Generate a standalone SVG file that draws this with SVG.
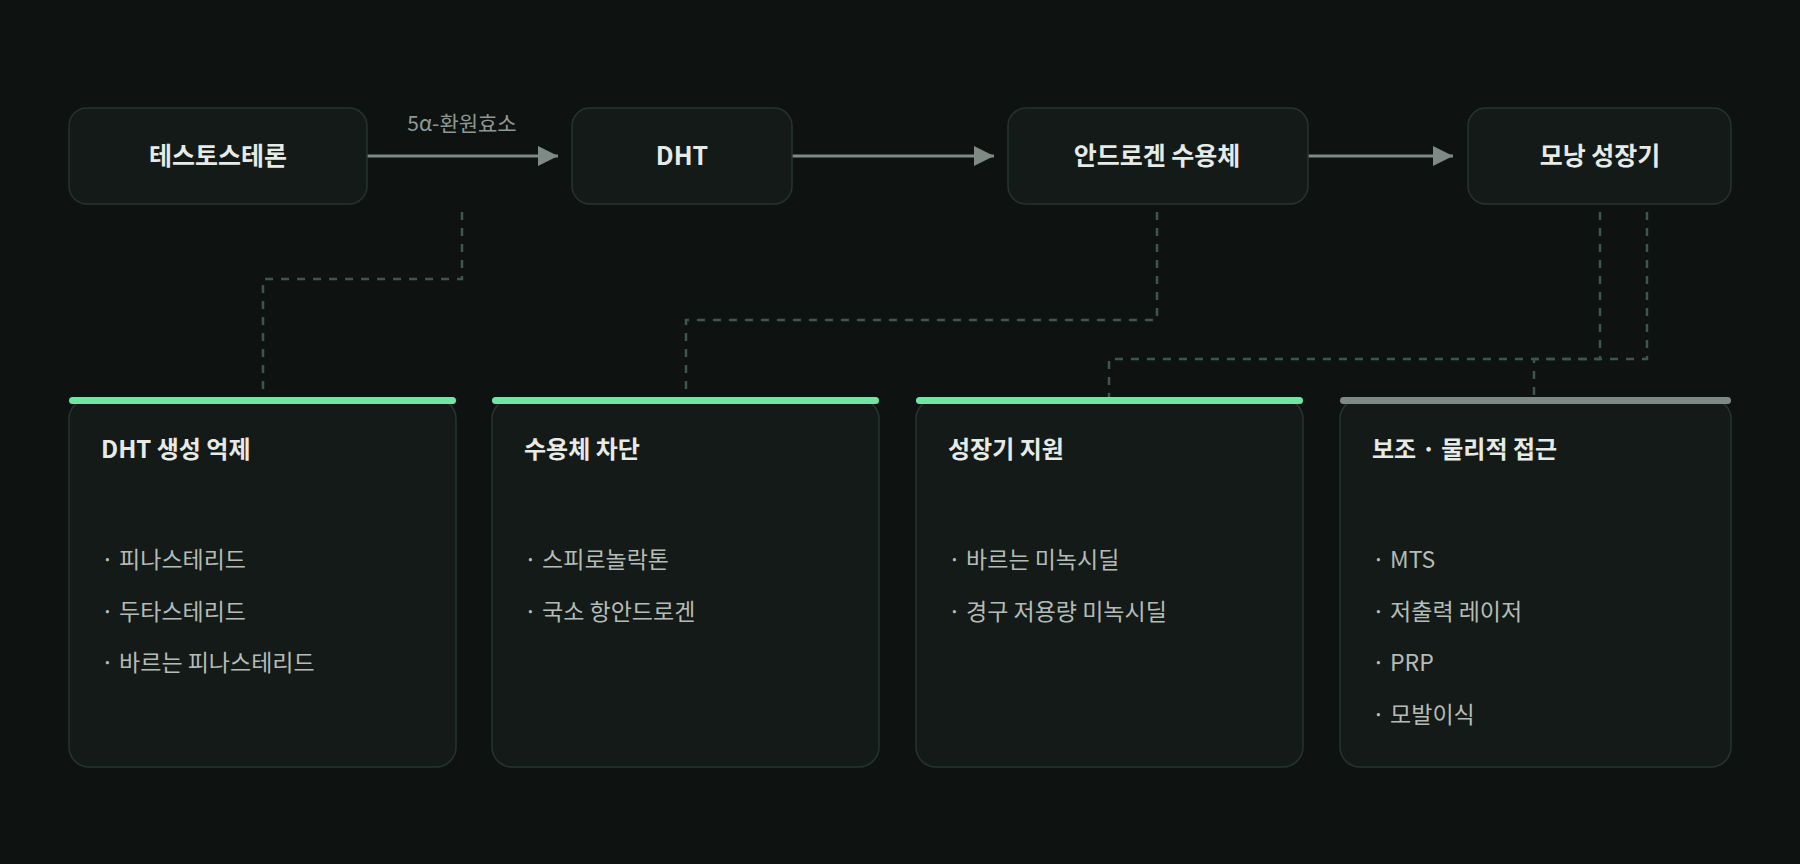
<svg xmlns="http://www.w3.org/2000/svg" width="1800" height="864" viewBox="0 0 1800 864">
<defs>
<marker id="ah" viewBox="0 0 10 10" refX="10" refY="5" markerWidth="20" markerHeight="22" markerUnits="userSpaceOnUse" orient="auto"><path d="M0,0L10,5L0,10z" fill="#7f8a85"/></marker>
<style>
text{font-family:"Noto Sans CJK KR","Noto Sans",sans-serif}
.box{fill:#141a17;stroke:#263430;stroke-width:1.5}
.nt{fill:#e6ebe8;font-size:25px;font-weight:700;text-anchor:middle}
.ct{fill:#e6ebe8;font-size:24px;font-weight:700}
.it{fill:#b4bcb8;font-size:23px}
.arr{stroke:#7f8a85;stroke-width:3;fill:none}
.dash{stroke:#3d5550;stroke-width:2.5;fill:none;stroke-dasharray:8 8}
</style>
</defs>
<rect width="1800" height="864" fill="#0e1312"/>
<g id="connectors">
<line class="arr" x1="367" y1="156" x2="558" y2="156" marker-end="url(#ah)"/>
<line class="arr" x1="792" y1="156" x2="994" y2="156" marker-end="url(#ah)"/>
<line class="arr" x1="1308" y1="156" x2="1453" y2="156" marker-end="url(#ah)"/>
<text x="462" y="131" text-anchor="middle" fill="#8e9894" font-size="21">5α-환원효소</text>
<path class="dash" d="M462 212V279H263V398"/>
<path class="dash" d="M1157 212V320H686V398"/>
<path class="dash" d="M1600 212V359H1109V398"/>
<path class="dash" d="M1647 212V359H1534V398"/>
</g>
<g id="n1"><rect class="box" x="69" y="108" width="298" height="96" rx="18"/><text class="nt" x="218" y="165">테스토스테론</text></g>
<g id="n2"><rect class="box" x="572" y="108" width="220" height="96" rx="18"/><text class="nt" x="682" y="165">DHT</text></g>
<g id="n3"><rect class="box" x="1008" y="108" width="300" height="96" rx="18"/><text class="nt" x="1157" y="165">안드로겐 수용체</text></g>
<g id="n4"><rect class="box" x="1468" y="108" width="263" height="96" rx="18"/><text class="nt" x="1600" y="165">모낭 성장기</text></g>
<g id="c1"><rect class="box" x="69" y="399" width="387" height="368" rx="20"/><rect x="69" y="397" width="387" height="7" rx="3.5" fill="#6ee7a0"/>
<text class="ct" x="101" y="458">DHT 생성 억제</text>
<text class="it" x="101" y="568">· 피나스테리드</text><text class="it" x="101" y="620">· 두타스테리드</text><text class="it" x="101" y="671">· 바르는 피나스테리드</text></g>
<g id="c2"><rect class="box" x="492" y="399" width="387" height="368" rx="20"/><rect x="492" y="397" width="387" height="7" rx="3.5" fill="#6ee7a0"/>
<text class="ct" x="524" y="458">수용체 차단</text>
<text class="it" x="524" y="568">· 스피로놀락톤</text><text class="it" x="524" y="620">· 국소 항안드로겐</text></g>
<g id="c3"><rect class="box" x="916" y="399" width="387" height="368" rx="20"/><rect x="916" y="397" width="387" height="7" rx="3.5" fill="#6ee7a0"/>
<text class="ct" x="948" y="458">성장기 지원</text>
<text class="it" x="948" y="568">· 바르는 미녹시딜</text><text class="it" x="948" y="620">· 경구 저용량 미녹시딜</text></g>
<g id="c4"><rect class="box" x="1340" y="399" width="391" height="368" rx="20"/><rect x="1340" y="397" width="391" height="7" rx="3.5" fill="#7f8a85"/>
<text class="ct" x="1372" y="458">보조 · 물리적 접근</text>
<text class="it" x="1372" y="568">· MTS</text><text class="it" x="1372" y="620">· 저출력 레이저</text><text class="it" x="1372" y="671">· PRP</text><text class="it" x="1372" y="723">· 모발이식</text></g>
</svg>
